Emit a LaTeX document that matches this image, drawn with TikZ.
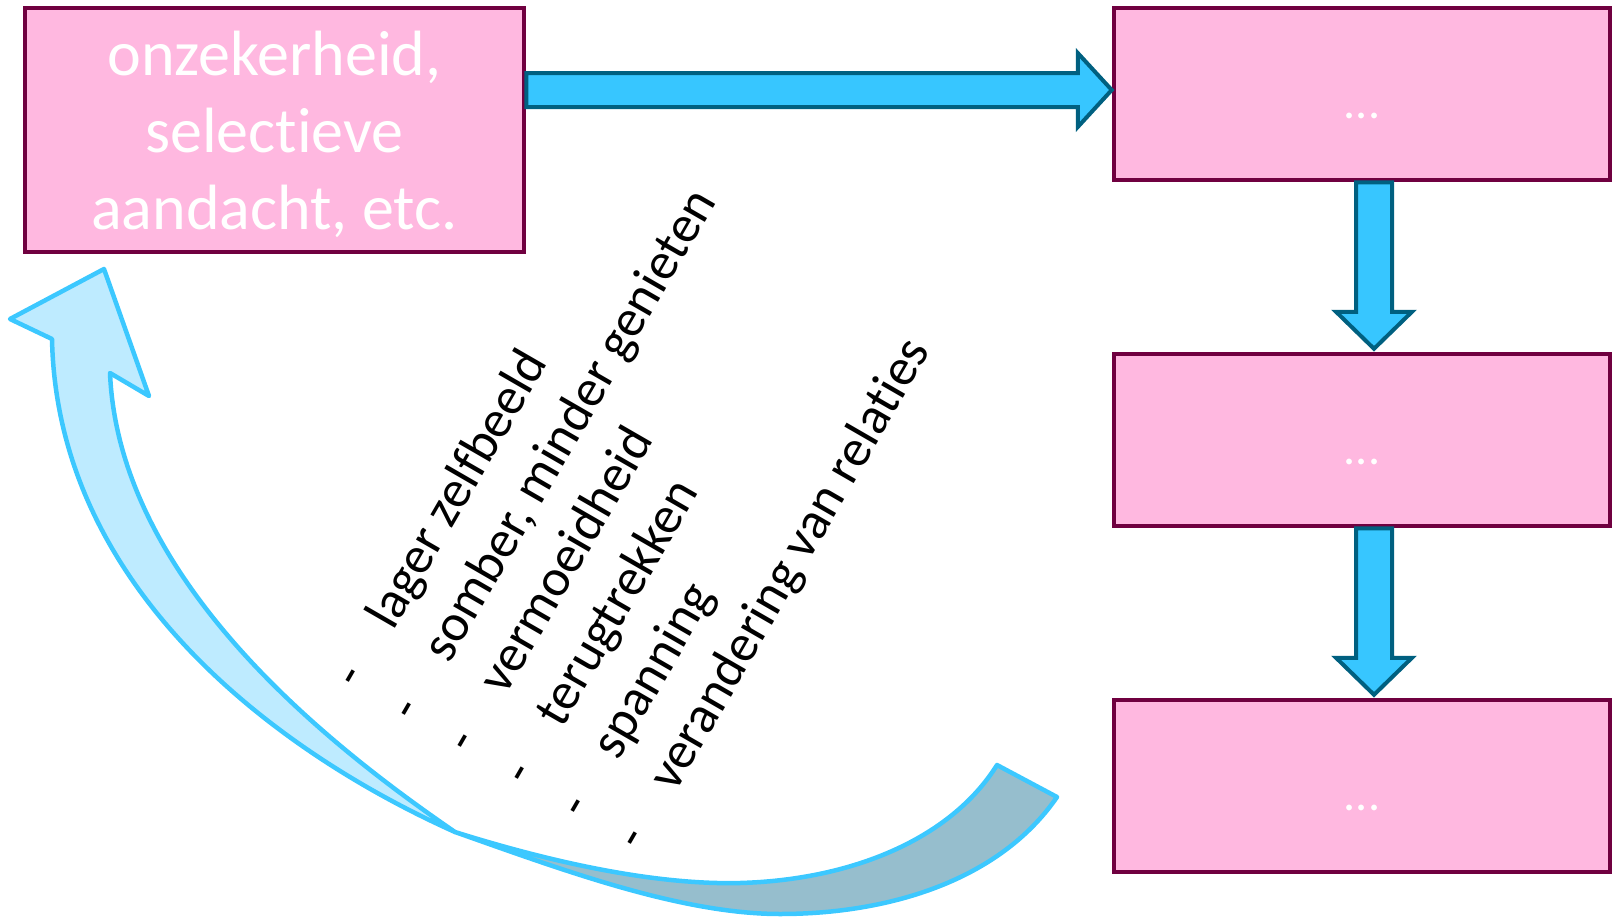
\documentclass[tikz,border=0pt]{standalone}
\usepackage{fontspec}
\setmainfont[Ligatures=NoCommon]{Carlito}
\usetikzlibrary{calc}

\definecolor{boxfill}{RGB}{255,184,224}
\definecolor{boxline}{RGB}{112,0,64}
\definecolor{arrowfill}{RGB}{55,198,255}
\definecolor{arrowline}{RGB}{0,96,128}
\definecolor{curveline}{RGB}{60,200,255}
\definecolor{curvefront}{RGB}{190,235,255}
\definecolor{curveback}{RGB}{150,190,205}

% lower a text without changing the size it reports
\newcommand{\dropby}[2]{\raisebox{-#1}[\height][\depth]{#2}}

\begin{document}
\begin{tikzpicture}[x=1pt,y=-1pt,
  stagebox/.style={draw=boxline, line width=4.5pt, fill=boxfill, text=white,
    inner sep=0pt, align=center, minimum width=496pt, minimum height=172pt,
    font=\fontsize{48}{58}\selectfont},
  blockarrow/.style={draw=arrowline, fill=arrowfill, line width=4pt, line join=miter},
  loopband/.style={draw=curveline, line width=4.5pt, line join=round},
  listline/.style={rotate=60, anchor=base west, inner sep=0pt,
    font=\fontsize{52.5}{65}\selectfont}
]
\useasboundingbox (0,0) rectangle (1612,918);

% boxes
\node[stagebox, minimum width=499pt, minimum height=244pt,
      font=\fontsize{64}{77}\selectfont] (L) at (274.5,130)
  {\dropby{7pt}{\begin{tabular}{@{}c@{}}onzekerheid,\\selectieve\\aandacht, etc.\end{tabular}}};
\node[stagebox] (R1) at (1362,94)  {\dropby{22pt}{...}};
\node[stagebox] (R2) at (1362,440) {\dropby{22pt}{...}};
\node[stagebox] (R3) at (1362,786) {\dropby{22pt}{...}};

% horizontal block arrow
\coordinate (h1) at ($(R1.west)+(0,-4)$);
\coordinate (h0) at (L.east |- h1);
\draw[blockarrow] ($(h0)+(0,-17)$) -- ($(h1)+(-34,-17)$) -- ($(h1)+(-34,-37)$)
  -- (h1) -- ($(h1)+(-34,37)$) -- ($(h1)+(-34,17)$) -- ($(h0)+(0,17)$) -- cycle;

% vertical block arrows
\foreach \a/\b in {R1/R2, R2/R3}{
  \coordinate (va) at ($(\a.south)+(12,0)$);
  \coordinate (vb) at ($(\b.north)+(12,-3)$);
  \draw[blockarrow] ($(va)+(-18,0)$) -- ($(vb)+(-18,-37)$) -- ($(vb)+(-38,-37)$)
    -- (vb) -- ($(vb)+(38,-37)$) -- ($(vb)+(18,-37)$) -- ($(va)+(18,0)$) -- cycle;
}

% curved feedback arrow
\coordinate (N1) at (52,339);
\coordinate (Bl) at (10,319);
\coordinate (Tip) at (104,269);
\coordinate (Br) at (149,396);
\coordinate (N2) at (110,373);
\coordinate (P) at (455,832);
\coordinate (M) at (740,883);
\coordinate (T1) at (997,765);
\coordinate (T2) at (1057,797);
\coordinate (Bt) at (780,914);

\draw[loopband, fill=curveback] (P) .. controls (560,865) and (660,885) .. (M)
  .. controls (850,880) and (950,840) .. (T1) -- (T2)
  .. controls (1000,880) and (890,914) .. (Bt)
  .. controls (680,914) and (560,869) .. (P) -- cycle;
\draw[loopband, fill=curvefront] (N2) .. controls (119,587) and (343,755) .. (P)
  .. controls (272,750) and (57,586) .. (N1) -- (Bl) -- (Tip) -- (Br) -- cycle;

% rotated list
\foreach \txt [count=\i from 0] in {lager zelfbeeld, {somber, minder genieten},
    vermoeidheid, terugtrekken, spanning, verandering van relaties}
  \node[listline] (item\i) at ({393+56.4*\i},{632+32.4*\i})
    {\makebox[0pt][r]{-\hspace{52pt}}\txt};
\end{tikzpicture}
\end{document}
